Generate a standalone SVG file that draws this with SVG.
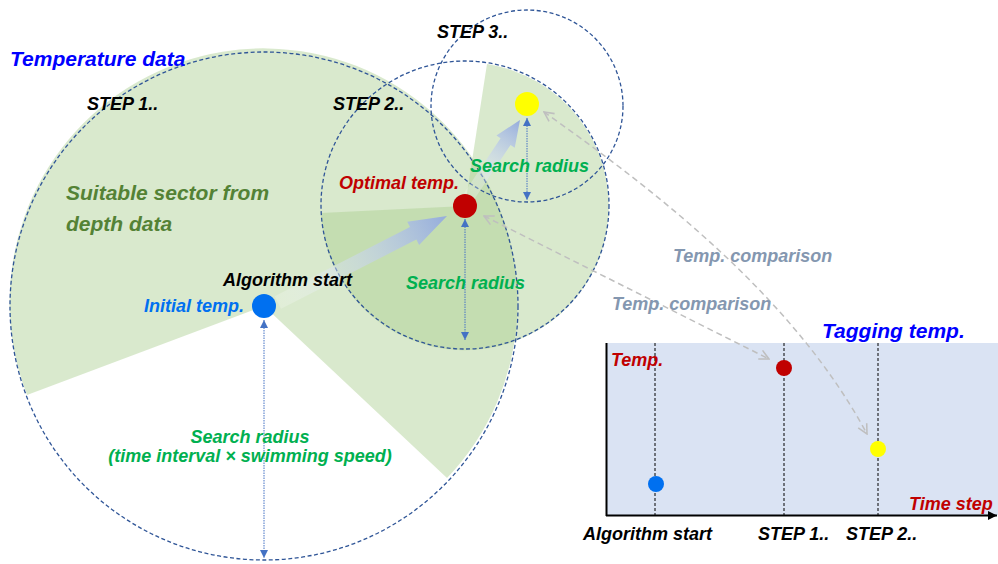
<svg xmlns="http://www.w3.org/2000/svg" width="998" height="564" viewBox="0 0 998 564">
<style>
text{font-family:"Liberation Sans",Arial,sans-serif;font-weight:bold;font-style:italic}
.ring{fill:none;stroke:#2f5597;stroke-width:1.3;stroke-dasharray:4 2.5}
.sector{fill:#aace91;fill-opacity:0.45}
.rad{stroke:#4472c4;stroke-width:1;stroke-dasharray:1.5 1;fill:none;marker-start:url(#tri);marker-end:url(#tri)}
.cmp{stroke:#bfbfbf;stroke-width:1.5;stroke-dasharray:6 4;fill:none;marker-start:url(#chev);marker-end:url(#chev)}
.vd{stroke:#000;stroke-width:1;stroke-dasharray:3 2}
.k{fill:#000;font-size:18px}
.g{fill:#00b050;font-size:18px}
.c{fill:#8497b0;font-size:18px}
.r{fill:#c00000;font-size:18px}
</style>
<defs>
<marker id="tri" viewBox="0 0 10 10" refX="10" refY="5" markerWidth="8" markerHeight="8" markerUnits="userSpaceOnUse" orient="auto-start-reverse">
<path d="M0,0 L10,5 L0,10 Z" fill="#4472c4"/>
</marker>
<marker id="chev" viewBox="0 0 10 10" refX="9" refY="5" markerWidth="12" markerHeight="12" markerUnits="userSpaceOnUse" orient="auto-start-reverse">
<path d="M1,1 L9,5 L1,9" fill="none" stroke="#bfbfbf" stroke-width="1.3"/>
</marker>
<marker id="axh" viewBox="0 0 10 10" refX="10" refY="5" markerWidth="9" markerHeight="9" markerUnits="userSpaceOnUse" orient="auto">
<path d="M0,0 L10,5 L0,10 Z" fill="#000"/>
</marker>
<linearGradient id="ag" x1="0" y1="0" x2="1" y2="0">
<stop offset="0" stop-color="#ffffff" stop-opacity="0.2"/>
<stop offset="1" stop-color="#94acdc"/>
</linearGradient>
</defs>

<g id="step1">
<path class="sector" d="M264,306 L447,478 A254,254 0 1 0 27,395 Z"/>
</g>
<g id="step2">
<path class="sector" d="M465,206 L487,64 A144,144 0 1 1 321,213 Z"/>
</g>
<g id="rings">
<circle class="ring" cx="264" cy="306" r="254"/>
<circle class="ring" cx="465" cy="205" r="144"/>
<circle class="ring" cx="527" cy="106" r="96"/>
</g>

<g id="graph">
<rect x="606" y="343" width="392" height="172" fill="#dae3f3"/>
<line class="vd" x1="655" y1="343" x2="655" y2="515"/>
<line class="vd" x1="784" y1="343" x2="784" y2="515"/>
<line class="vd" x1="878" y1="343" x2="878" y2="515"/>
<line x1="606.5" y1="343" x2="606.5" y2="516" stroke="#000" stroke-width="2"/>
<line x1="606" y1="515.5" x2="997" y2="515.5" stroke="#000" stroke-width="2" marker-end="url(#axh)"/>
</g>

<g id="connectors">
<path fill="url(#ag)" transform="translate(447,216) rotate(-27.1)" d="M0,0 L-38,-13 L-38,-7 L-190,-7 L-190,7 L-38,7 L-38,13 Z"/>
<path fill="url(#ag)" transform="translate(520,120) rotate(-56.3)" d="M0,0 L-26,-11 L-26,-6 L-92,-6 L-92,6 L-26,6 L-26,11 Z"/>
<line class="rad" x1="264" y1="320" x2="264" y2="558"/>
<line class="rad" x1="465" y1="219" x2="465" y2="340"/>
<line class="rad" x1="527" y1="118" x2="527" y2="200"/>
<path class="cmp" d="M484,216 L769,359"/>
<path class="cmp" d="M544,112 C640,180 790,290 867,434"/>
</g>

<g id="dots">
<circle cx="264" cy="306" r="12" fill="#0070f0"/>
<circle cx="465" cy="206" r="12" fill="#c00000"/>
<circle cx="527" cy="104" r="12" fill="#ffff00"/>
<circle cx="656" cy="484" r="8" fill="#0070f0"/>
<circle cx="784" cy="368" r="8" fill="#c00000"/>
<circle cx="878" cy="449" r="8" fill="#ffff00"/>
</g>

<g id="labels">
<text x="10" y="66" font-size="21" fill="#0000ff">Temperature data</text>
<text class="k" x="87" y="110">STEP 1..</text>
<text class="k" x="333" y="110">STEP 2..</text>
<text class="k" x="437" y="38">STEP 3..</text>
<text x="66" y="200" font-size="21" fill="#548235">Suitable sector from</text>
<text x="66" y="231" font-size="21" fill="#548235">depth data</text>
<text class="r" x="339" y="189">Optimal temp.</text>
<text class="k" x="223" y="286">Algorithm start</text>
<text x="144" y="312" font-size="18" fill="#0070f0">Initial temp.</text>
<text class="g" x="406" y="289">Search radius</text>
<text class="g" x="470" y="172">Search radius</text>
<text class="g" x="250" y="443" text-anchor="middle">Search radius</text>
<text class="g" x="250" y="462" text-anchor="middle">(time interval × swimming speed)</text>
<text class="c" x="673" y="262">Temp. comparison</text>
<text class="c" x="612" y="310">Temp. comparison</text>
<text x="822" y="338" font-size="21" fill="#0000ff">Tagging temp.</text>
<text class="r" x="611" y="366" font-size="17">Temp.</text>
<text class="r" x="909" y="510">Time step</text>
<text class="k" x="583" y="540">Algorithm start</text>
<text class="k" x="758" y="540">STEP 1..</text>
<text class="k" x="846" y="540">STEP 2..</text>
</g>
</svg>
